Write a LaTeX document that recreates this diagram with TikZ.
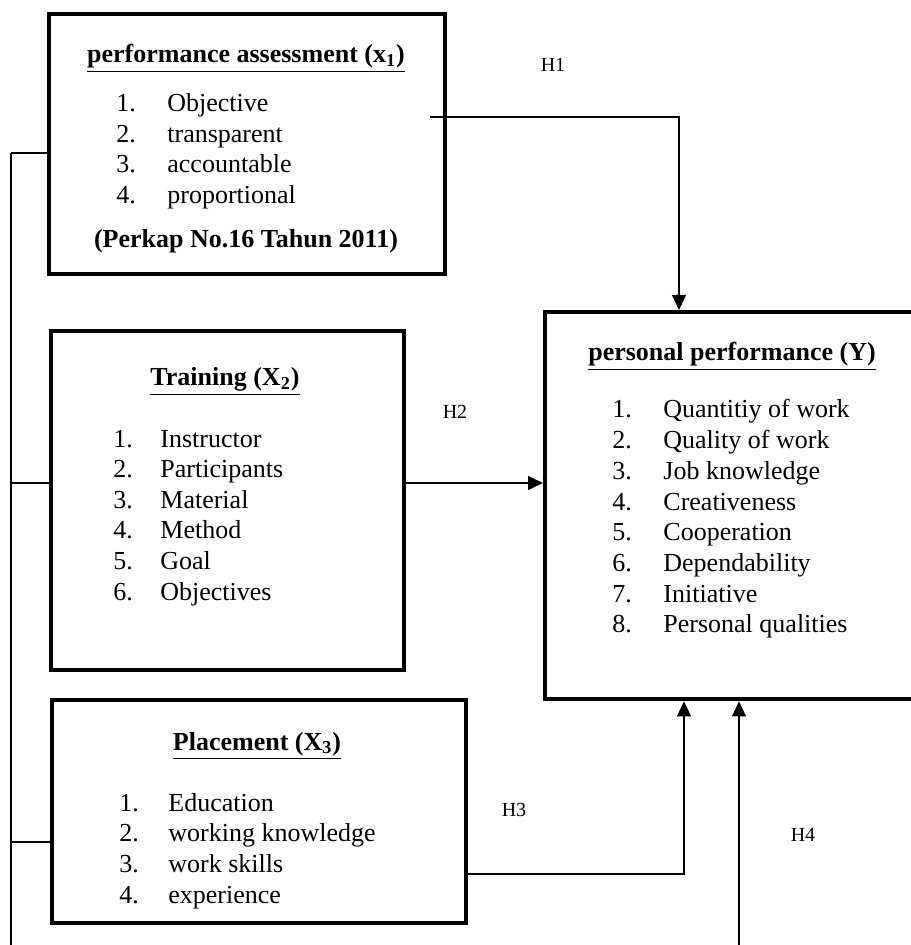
\documentclass[tikz,border=0pt]{standalone}
\usepackage{fontspec}
\setmainfont{Liberation Serif}
\usetikzlibrary{arrows.meta}
\tikzstyle{varbox}=[rectangle, draw, line width=2.2pt, anchor=north west,
fill=white]
\tikzstyle{boxtitle}=[font=\fontsize{13}{15}\selectfont\bfseries, inner sep=0pt,
anchor=base]
\tikzstyle{itemtext}=[font=\fontsize{13}{15}\selectfont, inner sep=0pt,
anchor=base west]
\tikzstyle{hlabel}=[font=\fontsize{10}{12}\selectfont, inner sep=0pt]
\tikzstyle{conn}=[line width=0.65pt]
\tikzstyle{arr}=[conn, -{Triangle[length=7.5pt,width=7pt]}]

\begin{document}
\begin{tikzpicture}[x=0.5pt,y=-0.5pt]
\useasboundingbox (0,0) rectangle (910,945);

% Performance assessment (x1)
\node[varbox, minimum width=198pt, minimum height=130pt] (x1box) at (47,12) {};
\node[boxtitle] (x1title) at (246,63) {\underline{performance assessment (x\textsubscript{1})}};
\foreach \txt [count=\i] in {Objective, transparent, accountable, proportional} {
	\node[itemtext] (x1num\i) at (116,112+30.4*\i-30.4) {\i.};
	\node[itemtext] (x1item\i) at (167,112+30.4*\i-30.4) {\txt};
}
\node[boxtitle] (x1ref) at (246,248) {(Perkap No.16 Tahun 2011)};

% Training (X2)
\node[varbox, minimum width=176.5pt, minimum height=169.5pt] (x2box) at (49,329) {};
\node[boxtitle] (x2title) at (225,386) {\underline{Training (X\textsubscript{2})}};
\foreach \txt [count=\i] in {Instructor, Participants, Material, Method, Goal, Objectives} {
	\node[itemtext] (x2num\i) at (113,447+30.6*\i-30.6) {\i.};
	\node[itemtext] (x2item\i) at (160,447+30.6*\i-30.6) {\txt};
}

% Placement (X3)
\node[varbox, minimum width=207pt, minimum height=111.5pt] (x3box) at (50,698) {};
\node[boxtitle] (x3title) at (257,750) {\underline{Placement (X\textsubscript{3})}};
\foreach \txt [count=\i] in {Education, working knowledge, work skills, experience} {
	\node[itemtext] (x3num\i) at (119,811+30.7*\i-30.7) {\i.};
	\node[itemtext] (x3item\i) at (168,811+30.7*\i-30.7) {\txt};
}

% Personal performance (Y)
\node[varbox, minimum width=198.5pt, minimum height=193.5pt] (ybox) at (543,310) {};
\node[boxtitle] (ytitle) at (732,361) {\underline{personal performance (Y)}};
\foreach \txt [count=\i] in {Quantitiy of work, Quality of work, Job knowledge,
	Creativeness, Cooperation, Dependability, Initiative, Personal qualities} {
	\node[itemtext] (ynum\i) at (612,418+30.7*\i-30.7) {\i.};
	\node[itemtext] (yitem\i) at (663,418+30.7*\i-30.7) {\txt};
}

% Left line
\coordinate (bustop) at (11,153);
\coordinate (busbot) at (11,945);
\draw[conn] (bustop) -- (busbot);
\draw[conn] (bustop) -- (bustop -| x1box.west);
\draw[conn] (11,483) -- (x2box.west |- 0,483);
\draw[conn] (11,842) -- (x3box.west |- 0,842);

% Hypothesis arrows
\coordinate (h1start) at (430,117);
\coordinate (h1turn) at (679,117);
\draw[arr] (h1start) -- (h1turn) -- (h1turn |- ybox.north);
\node[hlabel] (h1) at (553,65) {H1};

\coordinate (h2y) at (0,483);
\draw[arr] (x2box.east |- h2y) -- (ybox.west |- h2y);
\node[hlabel] (h2) at (455,412) {H2};

\coordinate (h3turn) at (684,874);
\draw[arr] (x3box.east |- h3turn) -- (h3turn) -- (h3turn |- ybox.south);
\node[hlabel] (h3) at (514,810) {H3};

\coordinate (h4start) at (739,945);
\draw[arr] (h4start) -- (h4start |- ybox.south);
\node[hlabel] (h4) at (803,835) {H4};

\end{tikzpicture}
\end{document}
